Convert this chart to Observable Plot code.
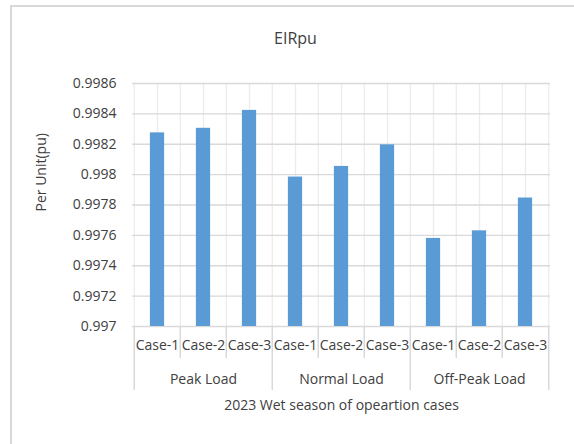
<!DOCTYPE html>
<html>
<head>
<meta charset="utf-8">
<script src="https://cdn.jsdelivr.net/npm/d3@7"></script>
<script src="https://cdn.jsdelivr.net/npm/@observablehq/plot@0.6"></script>
<style>
  html, body { margin: 0; padding: 0; background: #fff; overflow: hidden; }
  #wrap { position: relative; width: 574px; height: 444px; }
  #border { position: absolute; left: 10px; top: 5px; width: 600px; height: 500px;
            border: 2px solid #d9d9d9; pointer-events: none; box-sizing: border-box; }
</style>
</head>
<body>
<div id="wrap"><div id="border"></div></div>
<script>
const title = "EIRpu";
const yLabel = "Per Unit(pu)";
const xLabel = "2023 Wet season of opeartion cases";
const groups = ["Peak Load", "Normal Load", "Off-Peak Load"];
const cases = ["Case-1", "Case-2", "Case-3"];
const peakValues = [0.998275, 0.998305, 0.998423];
const normalValues = [0.997984, 0.998054, 0.998196];
const offPeakValues = [0.99758, 0.99763, 0.997846];
const yTicks = [0.997, 0.9972, 0.9974, 0.9976, 0.9978, 0.998, 0.9982, 0.9984, 0.9986];

const seriesByGroup = [peakValues, normalValues, offPeakValues];
const data = [];
groups.forEach((g, gi) => cases.forEach((c, ci) => {
  data.push({group: g, case: c, key: g + "|" + c, value: seriesByGroup[gi][ci]});
}));
const keys = data.map(d => d.key);

const W = 574, H = 444;
const mL = 132, mR = 24, mT = 83, mB = 118;
const frameH = H - mT - mB;
const bw = (W - mL - mR) / keys.length;
const yMin = yTicks[0], yMax = yTicks[yTicks.length - 1];
const font = "'Open Sans', sans-serif";
const textColor = "#404040";
const gridColor = "#d9d9d9";
const vGridColor = "#ececec";

const lastKey = keys[keys.length - 1];
const groupStarts = data.filter(d => d.case === cases[0]);
const innerCases = data.filter(d => d.case !== cases[0]);
const groupMids = data.filter(d => d.case === cases[1]);

const chart = Plot.plot({
  width: W,
  height: H,
  marginLeft: mL,
  marginRight: mR,
  marginTop: mT,
  marginBottom: mB,
  style: {fontFamily: font, fontSize: "14px", color: textColor, background: "transparent", overflow: "visible"},
  x: {type: "band", domain: keys, padding: 0, axis: null},
  y: {domain: [yMin, yMax], axis: null},
  marks: [
    // vertical gridlines (band centers and boundaries)
    Plot.ruleX(keys, {x: d => d, stroke: vGridColor, strokeWidth: 1.3}),
    Plot.ruleX(keys, {x: d => d, dx: -bw / 2, stroke: vGridColor, strokeWidth: 1.3}),
    Plot.ruleX([lastKey], {x: d => d, dx: bw / 2, stroke: vGridColor, strokeWidth: 1.3}),
    // horizontal gridlines
    Plot.gridY(yTicks, {stroke: gridColor, strokeOpacity: 1, strokeWidth: 1.3}),
    // bars
    Plot.barY(data, {x: "key", y1: () => yMin, y2: "value", fill: "#5b9bd5",
      insetLeft: (bw - 14.7) / 2, insetRight: (bw - 14.7) / 2}),
    // y axis labels
    Plot.axisY(yTicks, {tickSize: 0, tickPadding: 16, tickFormat: d => String(+d.toFixed(4)),
      fontSize: 14, fill: textColor, label: null}),
    // x category axis separators
    Plot.ruleX(innerCases, {x: "key", dx: -bw / 2, insetTop: frameH, insetBottom: -32,
      stroke: gridColor, strokeWidth: 1.5}),
    Plot.ruleX(groupStarts, {x: "key", dx: -bw / 2, insetTop: frameH, insetBottom: -64,
      stroke: gridColor, strokeWidth: 1.5}),
    Plot.ruleX([lastKey], {x: d => d, dx: bw / 2, insetTop: frameH, insetBottom: -64,
      stroke: gridColor, strokeWidth: 1.5}),
    // case labels
    Plot.axisX({tickSize: 0, tickPadding: 14, tickFormat: k => k.split("|")[1],
      fontSize: 14, fill: textColor, label: null}),
    // group labels
    Plot.text(groupMids, {x: "key", text: "group", frameAnchor: "bottom", dy: 53,
      lineAnchor: "middle", fontSize: 14, fill: textColor}),
    // axis title
    Plot.text([xLabel], {text: d => d, frameAnchor: "bottom", dy: 79,
      lineAnchor: "middle", fontSize: 14, fill: textColor}),
    // y label
    Plot.text([yLabel], {text: d => d, frameAnchor: "left", dx: -91, dy: 6.5, rotate: -90,
      lineAnchor: "middle", fontSize: 14, fill: textColor}),
    // title
    Plot.text([title], {text: d => d, frameAnchor: "top", dx: -46, dy: -45,
      lineAnchor: "middle", fontSize: 16, fill: textColor})
  ]
});
document.getElementById("wrap").prepend(chart);
</script>
</body>
</html>
